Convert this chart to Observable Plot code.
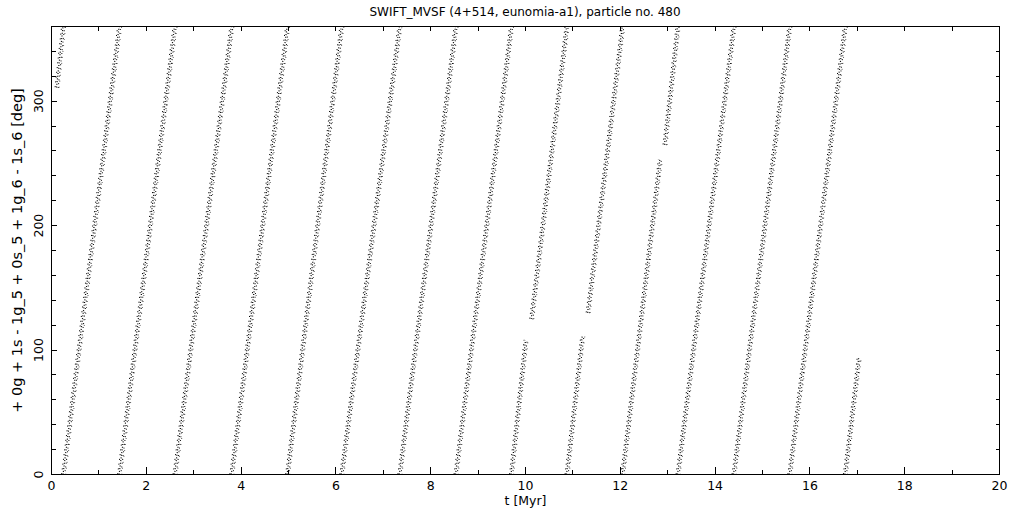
<!DOCTYPE html>
<html><head><meta charset="utf-8">
<script src="https://cdn.jsdelivr.net/npm/d3@7"></script>
<script src="https://cdn.jsdelivr.net/npm/@observablehq/plot@0.6"></script>
<style>
html,body{margin:0;padding:0;background:#fff;}
#title{box-sizing:border-box;width:1021px;height:18px;padding-left:51px;padding-right:22px;text-align:center;font:12px "DejaVu Sans",sans-serif;line-height:24px;color:#000;white-space:nowrap;}
#chart svg{display:block;}
</style></head><body>
<div id="title">SWIFT_MVSF (4+514, eunomia-a1), particle no. 480</div>
<div id="chart"></div>
<script>
// Band segments: (start t, start angle) -> (end t, end angle)
const segStartT = [0.106, 0.243, 1.426, 2.595, 3.793, 4.970, 6.114, 7.338, 8.523, 9.694, 10.12, 10.865, 11.31, 12.040, 12.932, 13.207, 14.388, 15.565, 16.736];
const segStartV = [311,   0,     0,     0,     0,     0,     0,     0,     0,     0,     125,   0,      130,   0,      265,    0,      0,      0,      0];
const segEndT   = [0.243, 1.426, 2.595, 3.793, 4.970, 6.114, 7.338, 8.523, 9.694, 10.00, 10.865, 11.196, 12.040, 12.833, 13.207, 14.388, 15.565, 16.736, 17.03];
const segEndV   = [360,   360,   360,   360,   360,   360,   360,   360,   360,   108,   360,    111,    360,    253,    360,    360,    360,    360,    94];

const xMajorTicks = [0, 2, 4, 6, 8, 10, 12, 14, 16, 18, 20];
const xMinorTicks = [1, 3, 5, 7, 9, 11, 13, 15, 17, 19];
const xTopTicks = [1, 2, 3, 4, 5, 6, 7, 8, 9, 10, 11, 12, 13, 14, 15, 16, 17, 18, 19];
const yMajorTicks = [0, 100, 200, 300];
const yMinorTicks = [20, 40, 60, 80, 120, 140, 160, 180, 220, 240, 260, 280, 320, 340];
const yRightTicks = [20, 40, 60, 80, 100, 120, 140, 160, 180, 200, 220, 240, 260, 280, 300, 320, 340];

const xLabel = "t [Myr]";
const yLabel = "+ 0g + 1s - 1g_5 + 0s_5 + 1g_6 - 1s_6 [deg]";

const segments = segStartT.map((t, i) => ({t0: t, v0: segStartV[i], t1: segEndT[i], v1: segEndV[i]}));

const W = 1021, H = 493, mL = 51, mR = 22, mT = 8, mB = 37;
const fW = W - mL - mR, fH = H - mT - mB;
const font = "DejaVu Sans, sans-serif";
const band = {x1: "t0", y1: "v0", x2: "t1", y2: "v1", stroke: "#000"};

const chart = Plot.plot({
  width: W, height: H,
  marginLeft: mL, marginRight: mR, marginTop: mT, marginBottom: mB,
  style: {fontFamily: font, background: "#fff", color: "#000"},
  x: {domain: [0, 20], axis: null},
  y: {domain: [0, 360], axis: null},
  marks: [
    Plot.link(segments, {...band, strokeWidth: 1.2, strokeDasharray: "1 1.7"}),
    Plot.link(segments, {...band, strokeWidth: 1.1, strokeDasharray: "0.9 2.9", dx: 1.6, dy: 0.4}),
    Plot.link(segments, {...band, strokeWidth: 1, strokeDasharray: "1.1 3.7", dx: -1.4, dy: -0.3}),
    Plot.link(segments, {...band, strokeWidth: 0.9, strokeDasharray: "0.7 5.3", dx: 2.6}),
    // ticks inside the frame
    Plot.tickX(xMajorTicks, {x: d => d, insetTop: fH - 7, stroke: "#000", shapeRendering: "crispEdges"}),
    Plot.tickX(xMinorTicks, {x: d => d, insetTop: fH - 4, stroke: "#000", shapeRendering: "crispEdges"}),
    Plot.tickX(xTopTicks, {x: d => d, insetBottom: fH - 5, stroke: "#000", shapeRendering: "crispEdges"}),
    Plot.tickY(yMajorTicks, {y: d => d, insetRight: fW - 6, stroke: "#000", shapeRendering: "crispEdges"}),
    Plot.tickY(yMinorTicks, {y: d => d, insetRight: fW - 5, stroke: "#000", shapeRendering: "crispEdges"}),
    Plot.tickY(yRightTicks, {y: d => d, insetLeft: fW - 3, stroke: "#000", shapeRendering: "crispEdges"}),
    Plot.frame({stroke: "#000", shapeRendering: "crispEdges"}),
    // tick labels
    Plot.text(xMajorTicks, {x: d => d, text: d => String(d), frameAnchor: "bottom", dy: 15, fontSize: 12.5, fill: "#000"}),
    Plot.text(yMajorTicks, {y: d => d, text: d => String(d), frameAnchor: "left", dx: -13, rotate: -90, textAnchor: "middle", fontSize: 12.5, fill: "#000"}),
    // axis labels
    Plot.text([xLabel], {text: d => d, frameAnchor: "bottom", dy: 30, fontSize: 12.5, fill: "#000"}),
    Plot.text([yLabel], {text: d => d, frameAnchor: "left", dx: -34, rotate: -90, textAnchor: "middle", fontSize: 14.5, fill: "#000"})
  ]
});
document.getElementById("chart").appendChild(chart);
</script>
</body></html>
